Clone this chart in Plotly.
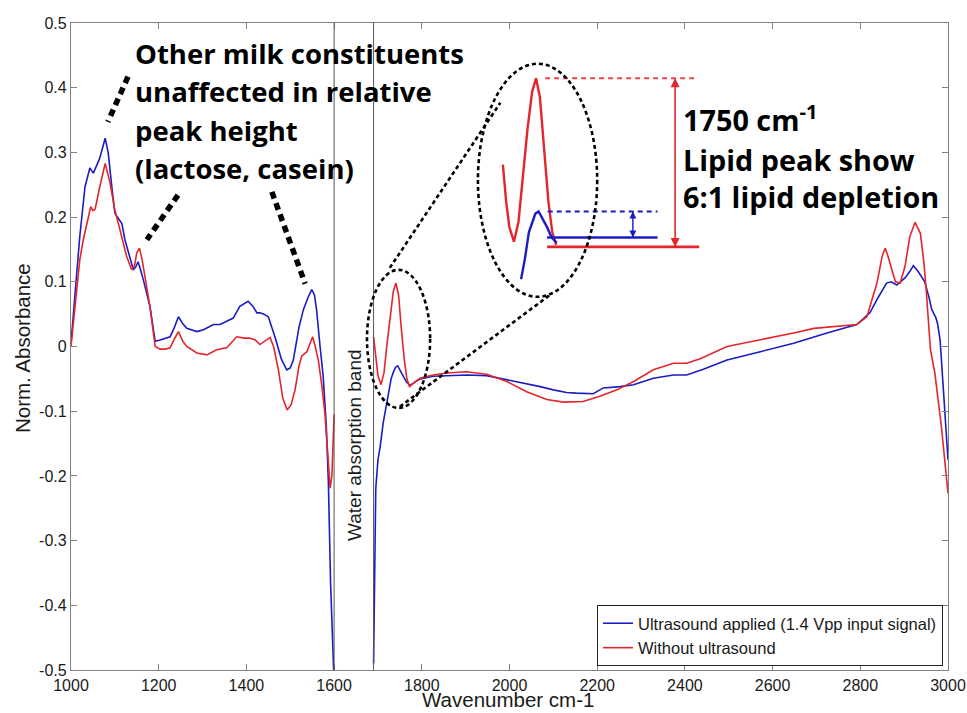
import plotly.graph_objects as go

# ---------------- data ----------------
# Blue: ultrasound applied, segment below the water band
blue_x_lo = [1000, 1009, 1020, 1032, 1043, 1051, 1065, 1078, 1085, 1093, 1100, 1108, 1116, 1123,
             1135, 1142, 1147, 1153, 1160, 1165, 1180, 1192, 1203, 1215, 1226, 1236, 1245, 1255,
             1264, 1287, 1302, 1325, 1340, 1355, 1370, 1385, 1404, 1415, 1424, 1431, 1440, 1450,
             1465, 1480, 1492, 1500, 1507, 1520, 1530, 1540, 1549, 1555, 1560, 1568, 1575, 1582,
             1587, 1592, 1597, 1600]
blue_y_lo = [0.005, 0.083, 0.170, 0.247, 0.276, 0.268, 0.290, 0.322, 0.299, 0.247, 0.206, 0.198, 0.190, 0.165,
             0.134, 0.119, 0.122, 0.131, 0.115, 0.103, 0.062, 0.008, 0.010, 0.012, 0.015, 0.030, 0.046, 0.035,
             0.028, 0.023, 0.026, 0.034, 0.034, 0.039, 0.044, 0.062, 0.070, 0.062, 0.052, 0.052, 0.050, 0.046,
             0.015, -0.020, -0.036, -0.033, -0.021, 0.030, 0.057, 0.075, 0.088, 0.080, 0.057, 0.000, -0.045, -0.120,
             -0.211, -0.366, -0.480, -0.520]
# Blue, segment above the water band
blue_x_hi = [1690, 1692, 1695, 1700, 1705, 1712, 1718, 1724, 1730, 1735, 1740, 1745, 1752, 1758, 1765,
             1773, 1785, 1796, 1826, 1850, 1872, 1902, 1948, 1994, 2039, 2070, 2100, 2130, 2153, 2191,
             2214, 2252, 2283, 2328, 2374, 2404, 2442, 2496, 2572, 2648, 2724, 2760, 2792, 2822, 2840,
             2860, 2870, 2883, 2902, 2912, 2921, 2932, 2947, 2957, 2963, 2972, 2976, 2982, 2993, 3000]
blue_y_hi = [-0.490, -0.350, -0.220, -0.175, -0.155, -0.118, -0.095, -0.075, -0.050, -0.040, -0.032, -0.030, -0.038, -0.045, -0.055,
             -0.060, -0.055, -0.050, -0.046, -0.045, -0.045, -0.044, -0.045, -0.051, -0.057, -0.062, -0.067, -0.071, -0.072, -0.073,
             -0.064, -0.062, -0.059, -0.049, -0.044, -0.044, -0.035, -0.021, -0.008, 0.005, 0.021, 0.028, 0.034, 0.052, 0.075,
             0.098, 0.100, 0.095, 0.106, 0.115, 0.125, 0.116, 0.100, 0.075, 0.057, 0.045, 0.036, 0.010, -0.108, -0.175]

# Red: without ultrasound
red_x_lo = [1000, 1009, 1020, 1028, 1036, 1045, 1050, 1055, 1065, 1078, 1089, 1100, 1108, 1116, 1127,
            1138, 1145, 1150, 1156, 1162, 1169, 1180, 1192, 1203, 1215, 1226, 1236, 1245, 1255, 1264,
            1287, 1310, 1332, 1355, 1378, 1395, 1408, 1420, 1431, 1445, 1454, 1462, 1473, 1483, 1493,
            1502, 1511, 1520, 1526, 1538, 1551, 1557, 1564, 1572, 1579, 1585, 1591, 1595, 1598, 1600]
red_y_lo = [0.000, 0.062, 0.134, 0.165, 0.190, 0.216, 0.210, 0.212, 0.245, 0.283, 0.253, 0.211, 0.190, 0.170, 0.139,
            0.119, 0.125, 0.145, 0.152, 0.135, 0.108, 0.062, 0.000, -0.004, -0.004, -0.002, 0.012, 0.023, 0.008, 0.000,
            -0.010, -0.013, -0.005, -0.002, 0.015, 0.013, 0.013, 0.010, 0.003, 0.010, 0.014, 0.000, -0.036, -0.080, -0.098,
            -0.090, -0.067, -0.030, -0.015, -0.008, 0.015, 0.000, -0.021, -0.060, -0.103, -0.160, -0.219, -0.200, -0.150, -0.105]
red_x_hi = [1690, 1695, 1700, 1707, 1714, 1720, 1728, 1735, 1741, 1747, 1753, 1760, 1766, 1772, 1784,
            1796, 1826, 1857, 1902, 1948, 1994, 2039, 2085, 2123, 2168, 2206, 2245, 2283, 2328, 2374,
            2404, 2435, 2496, 2572, 2648, 2694, 2739, 2792, 2815, 2838, 2850, 2857, 2863, 2868, 2880,
            2891, 2902, 2913, 2925, 2937, 2945, 2950, 2955, 2960, 2970, 2985, 3000]
red_y_hi = [0.015, -0.020, -0.045, -0.059, -0.040, 0.000, 0.050, 0.085, 0.098, 0.080, 0.030, -0.020, -0.050, -0.062, -0.055,
            -0.049, -0.044, -0.041, -0.039, -0.043, -0.054, -0.070, -0.082, -0.086, -0.085, -0.077, -0.067, -0.054, -0.036, -0.026,
            -0.026, -0.019, 0.000, 0.010, 0.021, 0.028, 0.031, 0.034, 0.046, 0.098, 0.140, 0.152, 0.140, 0.129, 0.100,
            0.098, 0.124, 0.170, 0.192, 0.175, 0.130, 0.090, 0.040, -0.005, -0.041, -0.124, -0.227]

x_tick_vals = [1000, 1200, 1400, 1600, 1800, 2000, 2200, 2400, 2600, 2800, 3000]
x_tick_text = ["1000", "1200", "1400", "1600", "1800", "2000", "2200", "2400", "2600", "2800", "3000"]
y_tick_vals = [-0.5, -0.4, -0.3, -0.2, -0.1, 0, 0.1, 0.2, 0.3, 0.4, 0.5]
y_tick_text = ["-0.5", "-0.4", "-0.3", "-0.2", "-0.1", "0", "0.1", "0.2", "0.3", "0.4", "0.5"]

water_band = [1600, 1690]
series_names = ["Ultrasound applied (1.4 Vpp input signal)", "Without ultrasound"]

# ---------------- styles ----------------
BLUE = "#1c1cc4"
RED = "#e3262c"
AXC = "#808080"
TXT = "#1a1a1a"
TICKFONT = "Liberation Sans, Arial, sans-serif"
BOLDFONT = "Open Sans, sans-serif"

fig = go.Figure()

blue_x = blue_x_lo + [None] + blue_x_hi
blue_y = blue_y_lo + [None] + blue_y_hi
red_x = red_x_lo + [None] + red_x_hi
red_y = red_y_lo + [None] + red_y_hi

fig.add_trace(go.Scatter(x=blue_x, y=blue_y, mode="lines", name=series_names[0],
                         line=dict(color=BLUE, width=1.6), connectgaps=False))
fig.add_trace(go.Scatter(x=red_x, y=red_y, mode="lines", name=series_names[1],
                         line=dict(color=RED, width=1.6), connectgaps=False))

# ---- inset (magnified copy of the 1750 cm-1 peak) ----
inset_lo, inset_hi = 1690, 1775
ri = [(x, y) for x, y in zip(red_x_hi, red_y_hi) if inset_lo <= x <= inset_hi]
bi = [(x, y) for x, y in zip(blue_x_hi, blue_y_hi) if 1718 <= x <= inset_hi]
fig.add_trace(go.Scatter(x=[p[0] for p in ri], y=[p[1] for p in ri], mode="lines",
                         line=dict(color=RED, width=2.4), xaxis="x2", yaxis="y2", showlegend=False))
fig.add_trace(go.Scatter(x=[p[0] for p in bi], y=[p[1] for p in bi], mode="lines",
                         line=dict(color=BLUE, width=2.4), xaxis="x2", yaxis="y2", showlegend=False))

red_peak = max(p[1] for p in ri)
red_base = -0.064
blue_peak = max(p[1] for p in bi)
blue_base = -0.055

# double-headed arrows in the inset (lines with arrow markers at both ends)
fig.add_trace(go.Scatter(x=[1955, 1955], y=[red_peak, red_base], mode="lines+markers",
                         line=dict(color=RED, width=1.6),
                         marker=dict(symbol=["arrow-up", "arrow-down"], size=9, color=RED),
                         xaxis="x2", yaxis="y2", showlegend=False, hoverinfo="skip"))
fig.add_trace(go.Scatter(x=[1890, 1890], y=[blue_peak, blue_base], mode="lines+markers",
                         line=dict(color=BLUE, width=1.4),
                         marker=dict(symbol=["arrow-up", "arrow-down"], size=7, color=BLUE),
                         xaxis="x2", yaxis="y2", showlegend=False, hoverinfo="skip"))

shapes = []
# water band lines
for wx in water_band:
    shapes.append(dict(type="line", xref="x", yref="paper", x0=wx, x1=wx, y0=0, y1=1,
                       line=dict(color="#555555", width=1)))
# inset level lines
shapes += [
    dict(type="line", xref="x2", yref="y2", x0=1755, x1=1990, y0=red_peak, y1=red_peak,
         line=dict(color="#e24a4a", width=2, dash="5px,4px")),
    dict(type="line", xref="x2", yref="y2", x0=1758, x1=1992, y0=red_base, y1=red_base,
         line=dict(color=RED, width=2.6)),
    dict(type="line", xref="x2", yref="y2", x0=1759, x1=1928, y0=blue_peak, y1=blue_peak,
         line=dict(color=BLUE, width=2, dash="5px,4px")),
    dict(type="line", xref="x2", yref="y2", x0=1758, x1=1928, y0=blue_base, y1=blue_base,
         line=dict(color=BLUE, width=2.6)),
]
# dotted ellipses and connectors
dot = dict(color="black", width=2.6, dash="4px,3px")
shapes += [
    dict(type="circle", xref="x", yref="y", x0=1675, x1=1819, y0=-0.095, y1=0.1185, line=dot),
    dict(type="circle", xref="x", yref="y", x0=1928, x1=2200, y0=0.0768, y1=0.437, line=dot),
    dict(type="line", xref="x", yref="y", x0=1727, y0=0.1215, x1=1979, y1=0.3766, line=dot),
    dict(type="line", xref="x", yref="y", x0=1750, y0=-0.093, x1=2093, y1=0.080, line=dot),
]
# thick dashed pointers
thick = dict(color="black", width=5.5, dash="7px,5px")
shapes += [
    dict(type="line", xref="x", yref="y", x0=1130, y0=0.417, x1=1084, y1=0.347, line=thick),
    dict(type="line", xref="x", yref="y", x0=1244, y0=0.234, x1=1173, y1=0.165, line=thick),
    dict(type="line", xref="x", yref="y", x0=1458, y0=0.239, x1=1534, y1=0.097, line=thick),
]

annotations = []

W, H = 967, 713
ML, MR, MT, MB = 71, 19, 23, 43
PW, PH = W - ML - MR, H - MT - MB


def px(x):
    return (x - ML) / PW


def py(y):
    return (H - MB - y) / PH


left_lines = ["Other milk constituents", "unaffected in relative", "peak height", "(lactose, casein)"]
left_centers = [54, 92, 130, 168]
for t, yc in zip(left_lines, left_centers):
    annotations.append(dict(text="<b>" + t + "</b>", x=px(133), y=py(yc), xref="paper", yref="paper",
                            xanchor="left", yanchor="middle", showarrow=False,
                            font=dict(family=BOLDFONT, size=27.5, color="black")))
right_lines = ["1750 cm<sup>-1</sup>", "Lipid peak show", "6:1 lipid depletion"]
right_centers = [118, 159, 197]
for t, yc in zip(right_lines, right_centers):
    annotations.append(dict(text="<b>" + t + "</b>", x=px(681), y=py(yc), xref="paper", yref="paper",
                            xanchor="left", yanchor="middle", showarrow=False,
                            font=dict(family=BOLDFONT, size=28.8, color="black")))

annotations.append(dict(text="Water absorption band", x=px(355), y=py(445), xref="paper", yref="paper",
                        textangle=-90, showarrow=False, xanchor="center", yanchor="middle",
                        font=dict(family=TICKFONT, size=19, color=TXT)))
annotations.append(dict(text="Norm. Absorbance", x=px(22), y=py(348), xref="paper", yref="paper",
                        textangle=-90, showarrow=False, xanchor="center", yanchor="middle",
                        font=dict(family=TICKFONT, size=20.5, color=TXT)))
annotations.append(dict(text="Wavenumber cm-1", x=px(508), y=py(700), xref="paper", yref="paper",
                        showarrow=False, xanchor="center", yanchor="middle",
                        font=dict(family=TICKFONT, size=20.5, color=TXT)))

axis_common = dict(showline=True, linecolor=AXC, linewidth=1.3, mirror="ticks", ticks="inside",
                   ticklen=6, tickcolor=AXC, showgrid=False, zeroline=False, automargin=False,
                   tickfont=dict(family=TICKFONT, size=16, color=TXT))

fig.update_layout(
    width=W, height=H, autosize=False,
    margin=dict(l=ML, r=MR, t=MT, b=MB),
    paper_bgcolor="white", plot_bgcolor="white",
    xaxis=dict(range=[1000, 3000], tickvals=x_tick_vals, ticktext=x_tick_text,
               ticklabelstandoff=1, **axis_common),
    yaxis=dict(range=[-0.5, 0.5], tickvals=y_tick_vals, ticktext=y_tick_text, **axis_common),
    xaxis2=dict(domain=[px(490), px(710)], range=[1670.2, 2008.7], visible=False, anchor="y2"),
    yaxis2=dict(domain=[py(300), py(60)], range=[-0.115, 0.1156], visible=False, anchor="x2"),
    shapes=shapes,
    annotations=annotations,
    showlegend=True,
    legend=dict(x=px(943), y=py(666), xanchor="right", yanchor="bottom",
                bgcolor="white", bordercolor="#222222", borderwidth=1,
                font=dict(family=TICKFONT, size=16.5, color=TXT),
                tracegroupgap=0, itemwidth=30),
)

fig.write_html("out.html", config={"displayModeBar": False},
               post_script="document.body.style.margin='0';document.body.style.padding='0';"
                           "document.body.style.overflow='hidden';"
                           "document.documentElement.style.overflow='hidden';")
